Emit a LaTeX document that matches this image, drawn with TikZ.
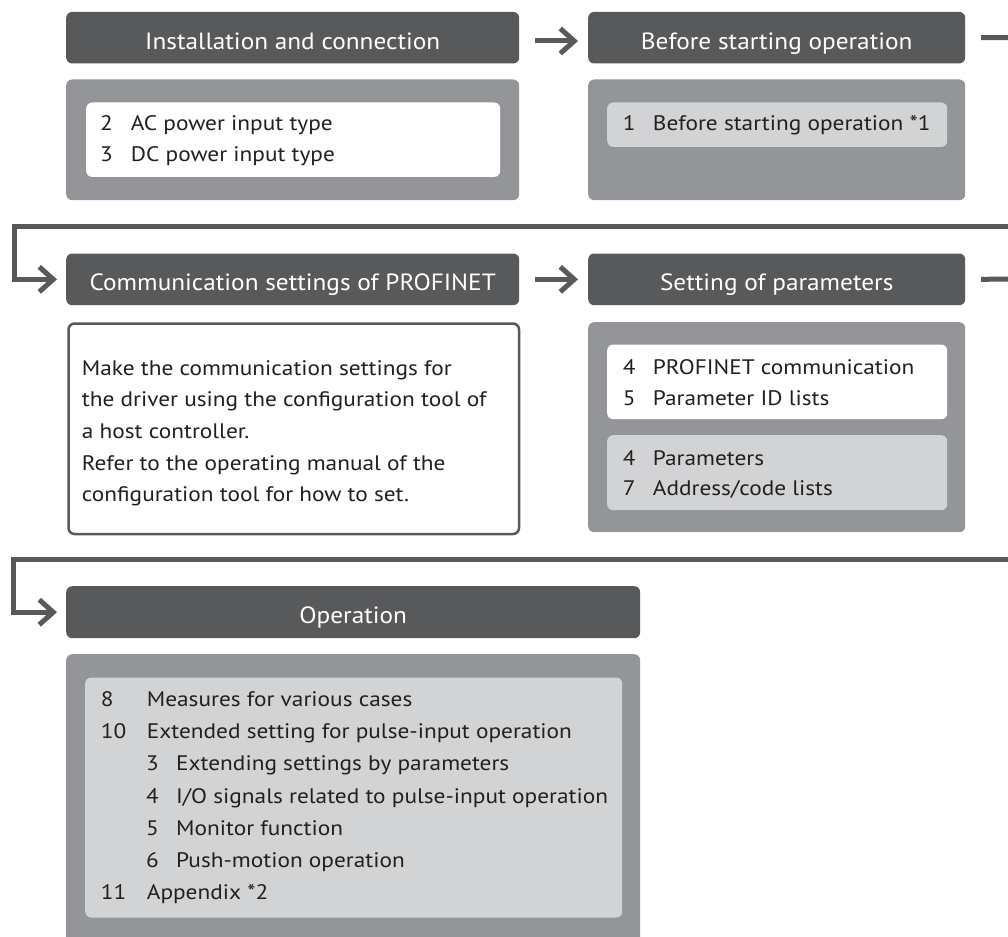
\documentclass[tikz,border=0pt]{standalone}
\usepackage{fontspec}
\setmainfont{PT Sans}[FakeStretch=1.11]
\newfontfamily\hfont{PT Sans}[FakeStretch=1.075]
\usetikzlibrary{arrows.meta}
\definecolor{hdrc}{HTML}{58595B}
\definecolor{bodyc}{HTML}{939598}
\definecolor{lightc}{HTML}{D1D3D4}
\definecolor{txtc}{HTML}{231F20}
\newcommand\bodyfont{\fontsize{21}{25}\selectfont}
\newcommand\hdrfont{\hfont\fontsize{23.5}{27}\selectfont}
\newcommand\entry[6]{\node[itemtxt] (#1) at (#2,#3) {\makebox[#4pt][l]{#5}#6};}
\newcommand\plain[4]{\node[itemtxt] (#1) at (#2,#3) {#4};}
\newcommand\htext[3]{\node[hdrtxt] (#1) at ([yshift=-11.4pt]#2.center) {#3};}
\begin{document}
\begin{tikzpicture}[x=1pt,y=-1pt,
  panel/.style={rounded corners=6pt, inner sep=0pt, anchor=north west, draw=none},
  hdr/.style={panel, fill=hdrc},
  hdrtxt/.style={anchor=base, inner sep=0pt, text=white, font=\hdrfont},
  greypanel/.style={panel, fill=bodyc},
  whitepanel/.style={panel, fill=white},
  lightpanel/.style={panel, fill=lightc},
  framepanel/.style={panel, fill=white, draw=hdrc, line width=2.5pt},
  itemtxt/.style={anchor=base west, inner sep=0pt, font=\bodyfont, text=txtc},
  conn/.style={draw=hdrc, line width=5pt},
  arr/.style={conn, -{Straight Barb[length=14pt,width=25pt]}}
]
\useasboundingbox (0,0) rectangle (1008,936);
\clip (0,0) rectangle (1008,936);

% Row 1
\node[hdr, minimum width=453pt, minimum height=51.6pt] (h1) at (66,11.7) {};
\node[hdr, minimum width=377pt, minimum height=51.6pt] (h2) at (588,11.7) {};
\htext{h1t}{h1}{Installation and connection}
\htext{h2t}{h2}{Before starting operation}
\node[greypanel, minimum width=453pt, minimum height=120.7pt] (b1) at (66,79.3) {};
\node[whitepanel, minimum width=414pt, minimum height=74.4pt] (i1) at (86,102.3) {};
\node[greypanel, minimum width=377pt, minimum height=120.7pt] (b2) at (588,79.3) {};
\node[lightpanel, minimum width=340pt, minimum height=44.4pt] (i2) at (607,102.3) {};
\entry{t11}{100}{131}{30.7}{2}{AC power input type}
\entry{t12}{100}{161.7}{30.7}{3}{DC power input type}
\entry{t21}{622.7}{131}{30}{1}{Before starting operation *1}

% Row 2
\node[hdr, minimum width=453pt, minimum height=51.7pt] (h3) at (66,253.3) {};
\node[hdr, minimum width=377pt, minimum height=51.7pt] (h4) at (588,253.3) {};
\htext{h3t}{h3}{Communication settings of PROFINET}
\htext{h4t}{h4}{Setting of parameters}
\node[framepanel, minimum width=450.5pt, minimum height=210.5pt] (b3) at (67.25,322.25) {};
\node[greypanel, minimum width=377pt, minimum height=210pt] (b4) at (588,322) {};
\node[whitepanel, minimum width=340pt, minimum height=74.7pt] (i4a) at (607,344.3) {};
\node[lightpanel, minimum width=340pt, minimum height=75pt] (i4b) at (607,435) {};
\plain{p1}{81.7}{375}{Make the communication settings for}
\plain{p2}{81.7}{406.7}{the driver using the configuration tool of}
\plain{p3}{81.7}{438.3}{a host controller.}
\plain{p4}{81.7}{470}{Refer to the operating manual of the}
\plain{p5}{81.7}{501.7}{configuration tool for how to set.}
\entry{t41}{622.7}{374.3}{30}{4}{PROFINET communication}
\entry{t42}{622.7}{405}{30}{5}{Parameter ID lists}
\entry{t43}{622.7}{465}{30}{4}{Parameters}
\entry{t44}{622.7}{495.7}{30}{7}{Address/code lists}

% Row 3
\node[hdr, minimum width=574pt, minimum height=52pt] (h5) at (66,586) {};
\htext{h5t}{h5}{Operation}
\node[greypanel, minimum width=574pt, minimum height=300pt] (b5) at (66,654) {};
\node[lightpanel, minimum width=537pt, minimum height=240pt] (i5) at (85,677.3) {};
\entry{t51}{100.7}{706.7}{46}{8}{Measures for various cases}
\entry{t52}{100.7}{738.3}{46}{10}{Extended setting for pulse-input operation}
\entry{t53}{146}{770}{30}{3}{Extending settings by parameters}
\entry{t54}{146}{803.3}{30}{4}{I/O signals related to pulse-input operation}
\entry{t55}{146}{835}{30}{5}{Monitor function}
\entry{t56}{146}{867.3}{30}{6}{Push-motion operation}
\entry{t57}{100.7}{899}{46}{11}{Appendix *2}

% Connectors
\coordinate (a1s) at (535,41);
\coordinate (a1e) at (578,41);
\draw[arr] (a1s) -- (a1e);
\coordinate (x1) at (1008,37.5);
\draw[conn] ([xshift=15.7pt]h2.east) -- (x1);
\coordinate (w1) at (1008,226.7);
\coordinate (c1) at (14.5,226.7);
\draw[arr] (w1) -- (c1) |- ([xshift=-9pt]h3.west);
\draw[arr] ([xshift=16pt]h3.east) -- ([xshift=-10pt]h4.west);
\coordinate (x2) at (1008,279);
\draw[conn] ([xshift=15.7pt]h4.east) -- (x2);
\coordinate (w2) at (1008,559);
\coordinate (c2) at (13,559);
\draw[arr] (w2) -- (c2) |- ([xshift=-9pt]h5.west);
\end{tikzpicture}
\end{document}
